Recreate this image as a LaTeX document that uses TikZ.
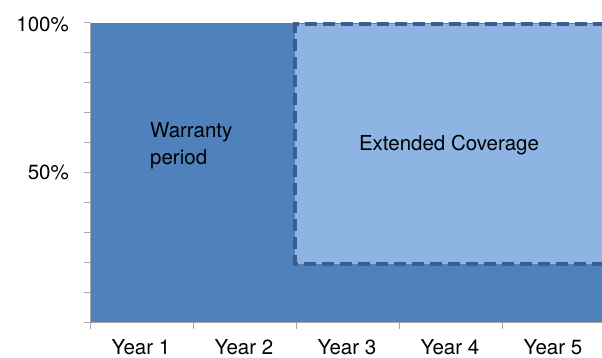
\documentclass[tikz,border=0pt]{standalone}
\usepackage{fontspec}
\setmainfont{TeX Gyre Heros}
\usetikzlibrary{positioning}
\definecolor{warrantyblue}{HTML}{4F81BD}
\definecolor{coverblue}{HTML}{8EB4E3}
\definecolor{dashblue}{HTML}{3A5F8E}
\definecolor{axisgray}{HTML}{A6A6A6}
\newcommand{\ytick}{\draw[axisgray, line width=1pt] (-6,0) -- (0,0);}
\newcommand{\xtick}{\draw[axisgray, line width=1pt] (0,0) -- (0,-6);}
\tikzset{chartlabel/.style={font=\fontsize{20.5}{27}\selectfont, inner sep=0pt}}

\begin{document}
\begin{tikzpicture}[x=1pt, y=1pt]

					\useasboundingbox (0,0) rectangle (602,358);

					\fill[warrantyblue] (90,35) rectangle (602,335);
					\fill[coverblue] (295,94) rectangle (602,334);
					\draw[dashblue, line width=4pt, dash pattern=on 12pt off 6pt] (604,94) -- (295,94) -- (295,333.5) -- (604,333.5);

					\draw[axisgray, line width=1pt] (90,35) -- (90,335);
					\draw[axisgray, line width=1pt] (90,35) -- (602,35);

					\begin{scope}[xshift = 90pt, yshift=35pt]
						\ytick
					\end{scope}
					\begin{scope}[xshift = 90pt, yshift=65pt]
						\ytick
					\end{scope}
					\begin{scope}[xshift = 90pt, yshift=95pt]
						\ytick
					\end{scope}
					\begin{scope}[xshift = 90pt, yshift=125pt]
						\ytick
					\end{scope}
					\begin{scope}[xshift = 90pt, yshift=155pt]
						\ytick
					\end{scope}
					\begin{scope}[xshift = 90pt, yshift=185pt]
						\ytick
					\end{scope}
					\begin{scope}[xshift = 90pt, yshift=215pt]
						\ytick
					\end{scope}
					\begin{scope}[xshift = 90pt, yshift=245pt]
						\ytick
					\end{scope}
					\begin{scope}[xshift = 90pt, yshift=275pt]
						\ytick
					\end{scope}
					\begin{scope}[xshift = 90pt, yshift=305pt]
						\ytick
					\end{scope}
					\begin{scope}[xshift = 90pt, yshift=335pt]
						\ytick
					\end{scope}

					\begin{scope}[xshift = 90pt, yshift=35pt]
						\xtick
					\end{scope}
					\begin{scope}[xshift = 193pt, yshift=35pt]
						\xtick
					\end{scope}
					\begin{scope}[xshift = 296pt, yshift=35pt]
						\xtick
					\end{scope}
					\begin{scope}[xshift = 399pt, yshift=35pt]
						\xtick
					\end{scope}
					\begin{scope}[xshift = 502pt, yshift=35pt]
						\xtick
					\end{scope}

					\node[chartlabel, anchor=base east] (full) at (69,326.5) {100\%};
					\node[chartlabel, anchor=base east] (half) at (69,178) {50\%};

					\node[chartlabel, anchor=base] (year1) at (141,3) {Year 1};
					\node[chartlabel, anchor=base] (year2) at (244,3) {Year 2};
					\node[chartlabel, anchor=base] (year3) at (347,3) {Year 3};
					\node[chartlabel, anchor=base] (year4) at (450,3) {Year 4};
					\node[chartlabel, anchor=base] (year5) at (553,3) {Year 5};

					\node[chartlabel, anchor=west, align=left] (warranty) at (150,212) {Warranty\\period};
					\node[chartlabel, anchor=base] (extended) at (449,207) {Extended Coverage};

\end{tikzpicture}
\end{document}
